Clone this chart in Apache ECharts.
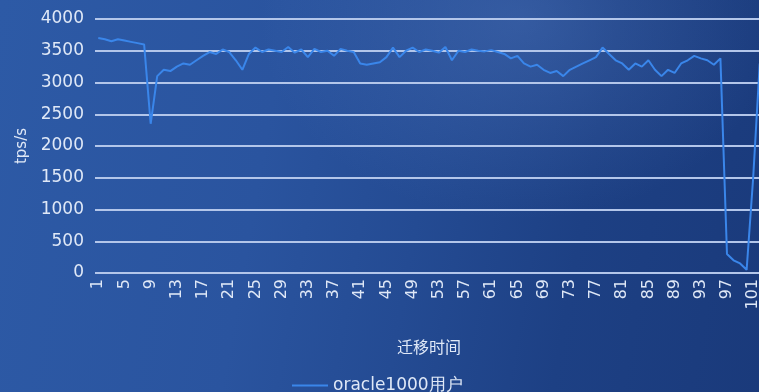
<!DOCTYPE html>
<html>
<head>
<meta charset="utf-8">
<script src="https://cdn.jsdelivr.net/npm/echarts@6/dist/echarts.min.js"></script>
<style>
  html, body { margin: 0; padding: 0; width: 759px; height: 392px; overflow: hidden; }
  body {
    background:
      radial-gradient(ellipse 260px 200px at 520px 20px, rgba(90,130,200,0.35), rgba(90,130,200,0) 100%),
      linear-gradient(100deg, #2d5aa6 0%, #2a549f 35%, #244b93 55%, #1d4084 75%, #1a3a7b 100%);
  }
  #chart { width: 759px; height: 392px; }
</style>
</head>
<body>
<div id="chart"></div>
<script>
// Migration time steps (1..102)
const categories = [];
for (let i = 1; i <= 102; i++) categories.push(String(i));

// Throughput (tps/s) during the migration, 1000 oracle users
const tpsValues = [
  3700, 3680, 3650, 3680, 3660, 3640, 3620, 3600, 2350, 3100,
  3200, 3180, 3250, 3300, 3280, 3350, 3420, 3480, 3450, 3520,
  3480, 3350, 3200, 3450, 3550, 3480, 3520, 3500, 3480, 3560,
  3470, 3520, 3400, 3530, 3480, 3500, 3420, 3530, 3500, 3480,
  3300, 3280, 3300, 3320, 3400, 3550, 3400, 3500, 3550, 3480,
  3520, 3500, 3470, 3560, 3350, 3500, 3480, 3520, 3500, 3490,
  3510, 3480, 3450, 3380, 3420, 3300, 3250, 3280, 3200, 3150,
  3180, 3100, 3200, 3250, 3300, 3350, 3400, 3550, 3450, 3350,
  3300, 3200, 3300, 3250, 3350, 3200, 3100, 3200, 3150, 3300,
  3350, 3420, 3380, 3350, 3280, 3380, 300, 200, 150, 50,
  1500, 3300
];

const yTicks = { min: 0, max: 4000, interval: 500 };
const seriesName = 'oracle1000用户';
const xName = '迁移时间';
const yName = 'tps/s';

const textColor = '#dfe8f7';
const gridColor = '#b3c6ea';

const chart = echarts.init(document.getElementById('chart'), null, { renderer: 'canvas' });
chart.setOption({
  backgroundColor: 'transparent',
  animation: false,
  grid: {
    left: 95, top: 19, width: 668, height: 254,
    containLabel: false,
    outerBoundsMode: 'none'
  },
  legend: {
    left: 287, top: 372,
    itemWidth: 36, itemHeight: 14, itemGap: 4,
    textStyle: { color: textColor, fontSize: 17, fontFamily: 'DejaVu Sans' },
    data: [{ name: seriesName, icon: 'path://M0,6 L36,6 L36,8 L0,8 Z' }]
  },
  xAxis: {
    type: 'category',
    data: categories,
    boundaryGap: true,
    name: xName,
    nameLocation: 'middle',
    nameGap: 66,
    nameTextStyle: { color: textColor, fontSize: 16, fontFamily: 'Noto Sans CJK SC' },
    axisLine: { show: false },
    axisTick: { show: false },
    axisLabel: {
      interval: 3,
      rotate: 90,
      margin: 6,
      color: textColor,
      fontSize: 16,
      fontFamily: 'DejaVu Sans'
    },
    splitLine: { show: false }
  },
  yAxis: {
    type: 'value',
    min: yTicks.min, max: yTicks.max, interval: yTicks.interval,
    name: yName,
    nameLocation: 'middle',
    nameGap: 62,
    nameTextStyle: { color: textColor, fontSize: 15, fontFamily: 'DejaVu Sans' },
    axisLine: { show: false },
    axisTick: { show: false },
    axisLabel: {
      color: textColor, fontSize: 17, margin: 11, fontFamily: 'DejaVu Sans',
      formatter: (v) => String(v)
    },
    splitLine: { lineStyle: { color: gridColor, width: 2 } }
  },
  series: [{
    name: seriesName,
    type: 'line',
    data: tpsValues,
    symbol: 'none',
    lineStyle: { color: '#3a86ea', width: 2 },
    itemStyle: { color: '#3a86ea' }
  }]
});
</script>
</body>
</html>
